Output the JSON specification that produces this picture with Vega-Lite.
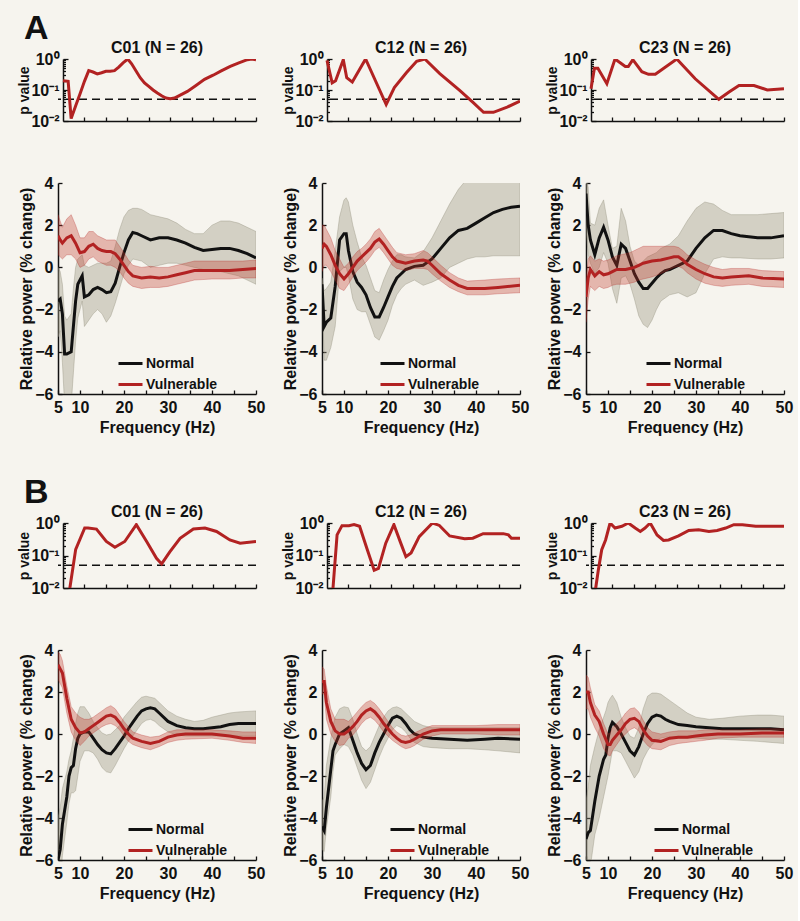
{
"$schema":"https://vega.github.io/schema/vega-lite/v6.json",
"background":"#f6f4ee",
"padding":{"left":17,"top":12,"right":5,"bottom":20},
"config":{
 "font":"Liberation Sans",
 "view":{"stroke":null},
 "axis":{"domainColor":"#111","domainWidth":1.5,"tickColor":"#111","tickWidth":1.3,"tickSize":-4,"labelFont":"Liberation Sans","labelFontWeight":"bold","labelFontSize":16,"labelColor":"#111","titleFont":"Liberation Sans","titleFontWeight":"bold","titleFontSize":16,"titleColor":"#111","grid":false,"labelFlush":false,"labelOverlap":false},
 "axisX":{"labelPadding":9,"titlePadding":4},
 "axisY":{"labelPadding":9},
 "title":{"font":"Liberation Sans","fontSize":16,"fontWeight":"bold","color":"#111","frame":"group","offset":-5,"anchor":"middle"},
 "legend":{"orient":"none","title":null,"symbolType":"stroke","symbolStrokeWidth":3,"symbolSize":576,"labelFont":"Liberation Sans","labelFontSize":14,"labelFontWeight":"bold","labelColor":"#111","rowPadding":-5,"padding":0,"labelOffset":2}
},
"datasets":{
"pw":[
{"s":"A","c":"C01","g":"Normal","f":5,"m":-1.6,"lo":-3.3,"hi":0},
{"s":"A","c":"C01","g":"Normal","f":5.5,"m":-1.5,"lo":-3.0,"hi":-0.2},
{"s":"A","c":"C01","g":"Normal","f":6,"m":-2.2,"lo":-4.5,"hi":-0.8},
{"s":"A","c":"C01","g":"Normal","f":6.5,"m":-4.1,"lo":-6.5,"hi":-2.3},
{"s":"A","c":"C01","g":"Normal","f":7,"m":-4.1,"lo":-6.5,"hi":-2.5},
{"s":"A","c":"C01","g":"Normal","f":8,"m":-4.0,"lo":-6.5,"hi":-2.2},
{"s":"A","c":"C01","g":"Normal","f":8.5,"m":-2.8,"lo":-5.0,"hi":-1.0},
{"s":"A","c":"C01","g":"Normal","f":9,"m":-1.6,"lo":-3.5,"hi":0},
{"s":"A","c":"C01","g":"Normal","f":9.5,"m":-0.8,"lo":-2.4,"hi":0.4},
{"s":"A","c":"C01","g":"Normal","f":10,"m":-0.6,"lo":-2.0,"hi":0.5},
{"s":"A","c":"C01","g":"Normal","f":10.5,"m":-0.4,"lo":-1.6,"hi":0.6},
{"s":"A","c":"C01","g":"Normal","f":11,"m":-1.4,"lo":-2.8,"hi":0.1},
{"s":"A","c":"C01","g":"Normal","f":12,"m":-1.3,"lo":-2.5,"hi":0},
{"s":"A","c":"C01","g":"Normal","f":13,"m":-1.05,"lo":-2.2,"hi":0.1},
{"s":"A","c":"C01","g":"Normal","f":14,"m":-0.95,"lo":-2.0,"hi":0.2},
{"s":"A","c":"C01","g":"Normal","f":15,"m":-1.05,"lo":-2.2,"hi":0.2},
{"s":"A","c":"C01","g":"Normal","f":16,"m":-1.2,"lo":-2.6,"hi":0.2},
{"s":"A","c":"C01","g":"Normal","f":17,"m":-1.15,"lo":-2.3,"hi":0.3},
{"s":"A","c":"C01","g":"Normal","f":18,"m":-0.75,"lo":-1.7,"hi":1.0},
{"s":"A","c":"C01","g":"Normal","f":19,"m":0,"lo":-1.0,"hi":1.8},
{"s":"A","c":"C01","g":"Normal","f":20,"m":0.7,"lo":-0.3,"hi":2.4},
{"s":"A","c":"C01","g":"Normal","f":21,"m":1.3,"lo":0.1,"hi":2.7},
{"s":"A","c":"C01","g":"Normal","f":22,"m":1.65,"lo":0.4,"hi":2.8},
{"s":"A","c":"C01","g":"Normal","f":23,"m":1.6,"lo":0.35,"hi":2.8},
{"s":"A","c":"C01","g":"Normal","f":24,"m":1.5,"lo":0.3,"hi":2.75},
{"s":"A","c":"C01","g":"Normal","f":26,"m":1.3,"lo":0,"hi":2.5},
{"s":"A","c":"C01","g":"Normal","f":28,"m":1.4,"lo":0.1,"hi":2.4},
{"s":"A","c":"C01","g":"Normal","f":30,"m":1.4,"lo":0.2,"hi":2.3},
{"s":"A","c":"C01","g":"Normal","f":32,"m":1.3,"lo":0.2,"hi":2.1},
{"s":"A","c":"C01","g":"Normal","f":34,"m":1.15,"lo":0.1,"hi":1.8},
{"s":"A","c":"C01","g":"Normal","f":36,"m":0.95,"lo":0,"hi":1.6},
{"s":"A","c":"C01","g":"Normal","f":38,"m":0.8,"lo":-0.1,"hi":1.6},
{"s":"A","c":"C01","g":"Normal","f":40,"m":0.85,"lo":-0.2,"hi":2.0},
{"s":"A","c":"C01","g":"Normal","f":42,"m":0.9,"lo":-0.2,"hi":2.2},
{"s":"A","c":"C01","g":"Normal","f":44,"m":0.9,"lo":-0.3,"hi":2.2},
{"s":"A","c":"C01","g":"Normal","f":46,"m":0.8,"lo":-0.4,"hi":2.1},
{"s":"A","c":"C01","g":"Normal","f":48,"m":0.65,"lo":-0.6,"hi":1.9},
{"s":"A","c":"C01","g":"Normal","f":50,"m":0.45,"lo":-0.8,"hi":1.7},
{"s":"A","c":"C01","g":"Vulnerable","f":5,"m":1.5,"lo":0.6,"hi":2.5},
{"s":"A","c":"C01","g":"Vulnerable","f":5.5,"m":1.3,"lo":0.5,"hi":2.2},
{"s":"A","c":"C01","g":"Vulnerable","f":6,"m":1.15,"lo":0.4,"hi":1.9},
{"s":"A","c":"C01","g":"Vulnerable","f":7,"m":1.4,"lo":0.6,"hi":2.3},
{"s":"A","c":"C01","g":"Vulnerable","f":8,"m":1.5,"lo":0.6,"hi":2.5},
{"s":"A","c":"C01","g":"Vulnerable","f":9,"m":1.15,"lo":0.4,"hi":2.0},
{"s":"A","c":"C01","g":"Vulnerable","f":10,"m":0.7,"lo":0,"hi":1.4},
{"s":"A","c":"C01","g":"Vulnerable","f":11,"m":0.75,"lo":0.1,"hi":1.4},
{"s":"A","c":"C01","g":"Vulnerable","f":12,"m":1.0,"lo":0.4,"hi":1.7},
{"s":"A","c":"C01","g":"Vulnerable","f":13,"m":1.1,"lo":0.5,"hi":1.7},
{"s":"A","c":"C01","g":"Vulnerable","f":14,"m":0.9,"lo":0.3,"hi":1.5},
{"s":"A","c":"C01","g":"Vulnerable","f":15,"m":0.8,"lo":0.2,"hi":1.4},
{"s":"A","c":"C01","g":"Vulnerable","f":16,"m":0.75,"lo":0.1,"hi":1.3},
{"s":"A","c":"C01","g":"Vulnerable","f":17,"m":0.75,"lo":0.1,"hi":1.3},
{"s":"A","c":"C01","g":"Vulnerable","f":18,"m":0.65,"lo":0,"hi":1.3},
{"s":"A","c":"C01","g":"Vulnerable","f":19,"m":0.4,"lo":-0.2,"hi":1.0},
{"s":"A","c":"C01","g":"Vulnerable","f":20,"m":0.1,"lo":-0.5,"hi":0.7},
{"s":"A","c":"C01","g":"Vulnerable","f":21,"m":-0.2,"lo":-0.75,"hi":0.35},
{"s":"A","c":"C01","g":"Vulnerable","f":22,"m":-0.4,"lo":-0.9,"hi":0.1},
{"s":"A","c":"C01","g":"Vulnerable","f":24,"m":-0.5,"lo":-1.0,"hi":0},
{"s":"A","c":"C01","g":"Vulnerable","f":26,"m":-0.45,"lo":-0.95,"hi":0.05},
{"s":"A","c":"C01","g":"Vulnerable","f":28,"m":-0.5,"lo":-0.95,"hi":0},
{"s":"A","c":"C01","g":"Vulnerable","f":30,"m":-0.45,"lo":-0.9,"hi":0},
{"s":"A","c":"C01","g":"Vulnerable","f":32,"m":-0.35,"lo":-0.8,"hi":0.1},
{"s":"A","c":"C01","g":"Vulnerable","f":34,"m":-0.25,"lo":-0.7,"hi":0.2},
{"s":"A","c":"C01","g":"Vulnerable","f":36,"m":-0.15,"lo":-0.6,"hi":0.3},
{"s":"A","c":"C01","g":"Vulnerable","f":40,"m":-0.15,"lo":-0.55,"hi":0.3},
{"s":"A","c":"C01","g":"Vulnerable","f":44,"m":-0.15,"lo":-0.55,"hi":0.3},
{"s":"A","c":"C01","g":"Vulnerable","f":47,"m":-0.1,"lo":-0.5,"hi":0.3},
{"s":"A","c":"C01","g":"Vulnerable","f":50,"m":-0.05,"lo":-0.5,"hi":0.35},
{"s":"A","c":"C12","g":"Normal","f":5,"m":-0.8,"lo":-1.2,"hi":-0.5},
{"s":"A","c":"C12","g":"Normal","f":5.5,"m":-2.8,"lo":-4.4,"hi":-1.1},
{"s":"A","c":"C12","g":"Normal","f":6,"m":-2.6,"lo":-4.4,"hi":-1.0},
{"s":"A","c":"C12","g":"Normal","f":7,"m":-2.4,"lo":-3.8,"hi":-0.7},
{"s":"A","c":"C12","g":"Normal","f":8,"m":-0.9,"lo":-2.8,"hi":0.8},
{"s":"A","c":"C12","g":"Normal","f":9,"m":1.3,"lo":-0.2,"hi":2.4},
{"s":"A","c":"C12","g":"Normal","f":10,"m":1.6,"lo":0,"hi":3.2},
{"s":"A","c":"C12","g":"Normal","f":10.5,"m":1.6,"lo":0,"hi":3.3},
{"s":"A","c":"C12","g":"Normal","f":11,"m":0.8,"lo":-0.4,"hi":3.1},
{"s":"A","c":"C12","g":"Normal","f":12,"m":-0.2,"lo":-1.5,"hi":2.0},
{"s":"A","c":"C12","g":"Normal","f":13,"m":-0.7,"lo":-2.0,"hi":1.2},
{"s":"A","c":"C12","g":"Normal","f":14,"m":-0.95,"lo":-2.1,"hi":0.5},
{"s":"A","c":"C12","g":"Normal","f":15,"m":-1.3,"lo":-2.1,"hi":0.1},
{"s":"A","c":"C12","g":"Normal","f":16,"m":-1.9,"lo":-2.7,"hi":-0.5},
{"s":"A","c":"C12","g":"Normal","f":17,"m":-2.35,"lo":-3.3,"hi":-1.1},
{"s":"A","c":"C12","g":"Normal","f":18,"m":-2.35,"lo":-3.45,"hi":-1.2},
{"s":"A","c":"C12","g":"Normal","f":19,"m":-1.9,"lo":-3.0,"hi":-0.6},
{"s":"A","c":"C12","g":"Normal","f":20,"m":-1.4,"lo":-2.5,"hi":-0.1},
{"s":"A","c":"C12","g":"Normal","f":21,"m":-0.9,"lo":-1.8,"hi":0.3},
{"s":"A","c":"C12","g":"Normal","f":22,"m":-0.5,"lo":-1.3,"hi":0.6},
{"s":"A","c":"C12","g":"Normal","f":23,"m":-0.3,"lo":-1.0,"hi":0.6},
{"s":"A","c":"C12","g":"Normal","f":24,"m":-0.1,"lo":-0.8,"hi":0.5},
{"s":"A","c":"C12","g":"Normal","f":26,"m":0.05,"lo":-0.6,"hi":0.45},
{"s":"A","c":"C12","g":"Normal","f":28,"m":0.1,"lo":-0.85,"hi":0.75},
{"s":"A","c":"C12","g":"Normal","f":30,"m":0.4,"lo":-0.7,"hi":1.4},
{"s":"A","c":"C12","g":"Normal","f":32,"m":0.9,"lo":-0.5,"hi":2.2},
{"s":"A","c":"C12","g":"Normal","f":34,"m":1.4,"lo":0,"hi":3.0},
{"s":"A","c":"C12","g":"Normal","f":36,"m":1.75,"lo":0.2,"hi":3.7},
{"s":"A","c":"C12","g":"Normal","f":38,"m":1.85,"lo":0.4,"hi":4.2},
{"s":"A","c":"C12","g":"Normal","f":40,"m":2.1,"lo":0.5,"hi":4.6},
{"s":"A","c":"C12","g":"Normal","f":42,"m":2.35,"lo":0.5,"hi":4.9},
{"s":"A","c":"C12","g":"Normal","f":44,"m":2.6,"lo":0.55,"hi":5.0},
{"s":"A","c":"C12","g":"Normal","f":46,"m":2.75,"lo":0.55,"hi":5.1},
{"s":"A","c":"C12","g":"Normal","f":48,"m":2.85,"lo":0.55,"hi":5.1},
{"s":"A","c":"C12","g":"Normal","f":50,"m":2.9,"lo":0.55,"hi":5.1},
{"s":"A","c":"C12","g":"Vulnerable","f":5,"m":0.9,"lo":-0.2,"hi":2.0},
{"s":"A","c":"C12","g":"Vulnerable","f":5.5,"m":1.1,"lo":0.1,"hi":2.0},
{"s":"A","c":"C12","g":"Vulnerable","f":6,"m":1.0,"lo":0.1,"hi":1.8},
{"s":"A","c":"C12","g":"Vulnerable","f":7,"m":0.6,"lo":-0.2,"hi":1.4},
{"s":"A","c":"C12","g":"Vulnerable","f":8,"m":0.1,"lo":-0.6,"hi":0.8},
{"s":"A","c":"C12","g":"Vulnerable","f":9,"m":-0.3,"lo":-1.0,"hi":0.4},
{"s":"A","c":"C12","g":"Vulnerable","f":10,"m":-0.55,"lo":-1.1,"hi":0},
{"s":"A","c":"C12","g":"Vulnerable","f":11,"m":-0.3,"lo":-0.8,"hi":0.2},
{"s":"A","c":"C12","g":"Vulnerable","f":12,"m":0,"lo":-0.45,"hi":0.5},
{"s":"A","c":"C12","g":"Vulnerable","f":13,"m":0.3,"lo":-0.15,"hi":0.75},
{"s":"A","c":"C12","g":"Vulnerable","f":14,"m":0.5,"lo":0.05,"hi":0.9},
{"s":"A","c":"C12","g":"Vulnerable","f":15,"m":0.7,"lo":0.25,"hi":1.1},
{"s":"A","c":"C12","g":"Vulnerable","f":16,"m":0.9,"lo":0.5,"hi":1.35},
{"s":"A","c":"C12","g":"Vulnerable","f":17,"m":1.2,"lo":0.8,"hi":1.7},
{"s":"A","c":"C12","g":"Vulnerable","f":18,"m":1.35,"lo":0.95,"hi":1.85},
{"s":"A","c":"C12","g":"Vulnerable","f":19,"m":1.1,"lo":0.7,"hi":1.55},
{"s":"A","c":"C12","g":"Vulnerable","f":20,"m":0.8,"lo":0.4,"hi":1.25},
{"s":"A","c":"C12","g":"Vulnerable","f":21,"m":0.5,"lo":0.1,"hi":0.95},
{"s":"A","c":"C12","g":"Vulnerable","f":22,"m":0.3,"lo":-0.05,"hi":0.7},
{"s":"A","c":"C12","g":"Vulnerable","f":24,"m":0.2,"lo":-0.15,"hi":0.6},
{"s":"A","c":"C12","g":"Vulnerable","f":26,"m":0.3,"lo":-0.05,"hi":0.65},
{"s":"A","c":"C12","g":"Vulnerable","f":28,"m":0.35,"lo":-0.05,"hi":0.8},
{"s":"A","c":"C12","g":"Vulnerable","f":29,"m":0.3,"lo":-0.1,"hi":0.7},
{"s":"A","c":"C12","g":"Vulnerable","f":30,"m":0.1,"lo":-0.3,"hi":0.5},
{"s":"A","c":"C12","g":"Vulnerable","f":32,"m":-0.3,"lo":-0.65,"hi":0.1},
{"s":"A","c":"C12","g":"Vulnerable","f":34,"m":-0.6,"lo":-0.95,"hi":-0.25},
{"s":"A","c":"C12","g":"Vulnerable","f":36,"m":-0.85,"lo":-1.15,"hi":-0.5},
{"s":"A","c":"C12","g":"Vulnerable","f":38,"m":-1.0,"lo":-1.3,"hi":-0.65},
{"s":"A","c":"C12","g":"Vulnerable","f":42,"m":-1.0,"lo":-1.3,"hi":-0.6},
{"s":"A","c":"C12","g":"Vulnerable","f":45,"m":-0.95,"lo":-1.25,"hi":-0.55},
{"s":"A","c":"C12","g":"Vulnerable","f":50,"m":-0.85,"lo":-1.2,"hi":-0.5},
{"s":"A","c":"C23","g":"Normal","f":5,"m":3.5,"lo":1.8,"hi":4.3},
{"s":"A","c":"C23","g":"Normal","f":5.5,"m":2.0,"lo":0.6,"hi":3.8},
{"s":"A","c":"C23","g":"Normal","f":6,"m":1.3,"lo":0.2,"hi":2.1},
{"s":"A","c":"C23","g":"Normal","f":7,"m":0.6,"lo":-0.3,"hi":2.0},
{"s":"A","c":"C23","g":"Normal","f":8,"m":1.4,"lo":0,"hi":2.8},
{"s":"A","c":"C23","g":"Normal","f":9,"m":1.9,"lo":0.7,"hi":3.2},
{"s":"A","c":"C23","g":"Normal","f":10,"m":1.3,"lo":0.2,"hi":2.0},
{"s":"A","c":"C23","g":"Normal","f":11,"m":0.5,"lo":-1.0,"hi":0.9},
{"s":"A","c":"C23","g":"Normal","f":12,"m":0.1,"lo":-1.7,"hi":1.0},
{"s":"A","c":"C23","g":"Normal","f":13,"m":1.1,"lo":-0.5,"hi":2.8},
{"s":"A","c":"C23","g":"Normal","f":14,"m":0.9,"lo":-0.4,"hi":2.2},
{"s":"A","c":"C23","g":"Normal","f":15,"m":0.3,"lo":-0.8,"hi":1.0},
{"s":"A","c":"C23","g":"Normal","f":16,"m":-0.3,"lo":-1.5,"hi":0.3},
{"s":"A","c":"C23","g":"Normal","f":17,"m":-0.7,"lo":-2.3,"hi":0.1},
{"s":"A","c":"C23","g":"Normal","f":18,"m":-1.0,"lo":-2.7,"hi":0.3},
{"s":"A","c":"C23","g":"Normal","f":19,"m":-1.0,"lo":-2.85,"hi":0.5},
{"s":"A","c":"C23","g":"Normal","f":20,"m":-0.75,"lo":-2.5,"hi":0.6},
{"s":"A","c":"C23","g":"Normal","f":21,"m":-0.5,"lo":-2.0,"hi":0.7},
{"s":"A","c":"C23","g":"Normal","f":22,"m":-0.3,"lo":-1.6,"hi":0.9},
{"s":"A","c":"C23","g":"Normal","f":23,"m":-0.15,"lo":-1.45,"hi":1.0},
{"s":"A","c":"C23","g":"Normal","f":24,"m":-0.1,"lo":-1.3,"hi":1.1},
{"s":"A","c":"C23","g":"Normal","f":26,"m":0.1,"lo":-1.2,"hi":1.5},
{"s":"A","c":"C23","g":"Normal","f":28,"m":0.3,"lo":-1.4,"hi":2.2},
{"s":"A","c":"C23","g":"Normal","f":30,"m":0.9,"lo":-1.2,"hi":2.8},
{"s":"A","c":"C23","g":"Normal","f":32,"m":1.4,"lo":-0.3,"hi":3.1},
{"s":"A","c":"C23","g":"Normal","f":34,"m":1.75,"lo":0.4,"hi":3.0},
{"s":"A","c":"C23","g":"Normal","f":36,"m":1.75,"lo":0.5,"hi":2.7},
{"s":"A","c":"C23","g":"Normal","f":38,"m":1.6,"lo":0.45,"hi":2.5},
{"s":"A","c":"C23","g":"Normal","f":40,"m":1.5,"lo":0.45,"hi":2.5},
{"s":"A","c":"C23","g":"Normal","f":44,"m":1.4,"lo":0.4,"hi":2.5},
{"s":"A","c":"C23","g":"Normal","f":47,"m":1.4,"lo":0.4,"hi":2.55},
{"s":"A","c":"C23","g":"Normal","f":50,"m":1.5,"lo":0.45,"hi":2.6},
{"s":"A","c":"C23","g":"Vulnerable","f":5,"m":-1.4,"lo":-2.6,"hi":-0.6},
{"s":"A","c":"C23","g":"Vulnerable","f":5.5,"m":-0.5,"lo":-1.5,"hi":0.4},
{"s":"A","c":"C23","g":"Vulnerable","f":6,"m":-0.1,"lo":-0.9,"hi":0.55},
{"s":"A","c":"C23","g":"Vulnerable","f":7,"m":-0.4,"lo":-1.1,"hi":0.3},
{"s":"A","c":"C23","g":"Vulnerable","f":8,"m":-0.2,"lo":-0.9,"hi":0.4},
{"s":"A","c":"C23","g":"Vulnerable","f":9,"m":-0.35,"lo":-1.0,"hi":0.3},
{"s":"A","c":"C23","g":"Vulnerable","f":10,"m":-0.3,"lo":-0.95,"hi":0.35},
{"s":"A","c":"C23","g":"Vulnerable","f":11,"m":-0.2,"lo":-0.85,"hi":0.45},
{"s":"A","c":"C23","g":"Vulnerable","f":12,"m":-0.1,"lo":-0.8,"hi":0.55},
{"s":"A","c":"C23","g":"Vulnerable","f":14,"m":-0.1,"lo":-0.8,"hi":0.65},
{"s":"A","c":"C23","g":"Vulnerable","f":15,"m":-0.05,"lo":-0.75,"hi":0.7},
{"s":"A","c":"C23","g":"Vulnerable","f":16,"m":0,"lo":-0.7,"hi":0.8},
{"s":"A","c":"C23","g":"Vulnerable","f":17,"m":0.1,"lo":-0.6,"hi":0.9},
{"s":"A","c":"C23","g":"Vulnerable","f":18,"m":0.2,"lo":-0.55,"hi":1.0},
{"s":"A","c":"C23","g":"Vulnerable","f":20,"m":0.3,"lo":-0.45,"hi":1.0},
{"s":"A","c":"C23","g":"Vulnerable","f":22,"m":0.35,"lo":-0.3,"hi":1.0},
{"s":"A","c":"C23","g":"Vulnerable","f":24,"m":0.45,"lo":-0.1,"hi":1.0},
{"s":"A","c":"C23","g":"Vulnerable","f":25,"m":0.5,"lo":0,"hi":1.0},
{"s":"A","c":"C23","g":"Vulnerable","f":26,"m":0.5,"lo":0.05,"hi":0.95},
{"s":"A","c":"C23","g":"Vulnerable","f":27,"m":0.35,"lo":-0.05,"hi":0.8},
{"s":"A","c":"C23","g":"Vulnerable","f":28,"m":0.15,"lo":-0.25,"hi":0.6},
{"s":"A","c":"C23","g":"Vulnerable","f":30,"m":-0.1,"lo":-0.55,"hi":0.35},
{"s":"A","c":"C23","g":"Vulnerable","f":32,"m":-0.3,"lo":-0.75,"hi":0.15},
{"s":"A","c":"C23","g":"Vulnerable","f":34,"m":-0.45,"lo":-0.85,"hi":0},
{"s":"A","c":"C23","g":"Vulnerable","f":36,"m":-0.5,"lo":-0.9,"hi":-0.1},
{"s":"A","c":"C23","g":"Vulnerable","f":38,"m":-0.45,"lo":-0.85,"hi":-0.05},
{"s":"A","c":"C23","g":"Vulnerable","f":42,"m":-0.4,"lo":-0.8,"hi":-0.05},
{"s":"A","c":"C23","g":"Vulnerable","f":45,"m":-0.5,"lo":-0.9,"hi":-0.15},
{"s":"A","c":"C23","g":"Vulnerable","f":50,"m":-0.55,"lo":-0.95,"hi":-0.2},
{"s":"B","c":"C01","g":"Normal","f":5,"m":-6.0,"lo":-7.5,"hi":-4.0},
{"s":"B","c":"C01","g":"Normal","f":5.5,"m":-5.5,"lo":-7.0,"hi":-3.5},
{"s":"B","c":"C01","g":"Normal","f":6,"m":-4.3,"lo":-5.8,"hi":-2.6},
{"s":"B","c":"C01","g":"Normal","f":7,"m":-3.0,"lo":-4.2,"hi":-1.8},
{"s":"B","c":"C01","g":"Normal","f":7.5,"m":-2.0,"lo":-3.3,"hi":-1.2},
{"s":"B","c":"C01","g":"Normal","f":8,"m":-1.6,"lo":-2.8,"hi":-0.8},
{"s":"B","c":"C01","g":"Normal","f":8.5,"m":-1.5,"lo":-2.8,"hi":-0.2},
{"s":"B","c":"C01","g":"Normal","f":9,"m":-0.7,"lo":-2.7,"hi":0.5},
{"s":"B","c":"C01","g":"Normal","f":9.5,"m":-0.2,"lo":-2.0,"hi":1.0},
{"s":"B","c":"C01","g":"Normal","f":10,"m":0,"lo":-1.3,"hi":1.3},
{"s":"B","c":"C01","g":"Normal","f":11,"m":0.1,"lo":-0.8,"hi":1.3},
{"s":"B","c":"C01","g":"Normal","f":12,"m":0.1,"lo":-0.8,"hi":1.0},
{"s":"B","c":"C01","g":"Normal","f":13,"m":-0.2,"lo":-0.9,"hi":0.6},
{"s":"B","c":"C01","g":"Normal","f":14,"m":-0.5,"lo":-1.2,"hi":0.3},
{"s":"B","c":"C01","g":"Normal","f":15,"m":-0.75,"lo":-1.6,"hi":0.05},
{"s":"B","c":"C01","g":"Normal","f":16,"m":-0.9,"lo":-1.8,"hi":-0.05},
{"s":"B","c":"C01","g":"Normal","f":17,"m":-0.95,"lo":-1.85,"hi":0},
{"s":"B","c":"C01","g":"Normal","f":18,"m":-0.7,"lo":-1.5,"hi":0.2},
{"s":"B","c":"C01","g":"Normal","f":19,"m":-0.4,"lo":-1.1,"hi":0.4},
{"s":"B","c":"C01","g":"Normal","f":20,"m":-0.1,"lo":-0.7,"hi":0.8},
{"s":"B","c":"C01","g":"Normal","f":21,"m":0.25,"lo":-0.35,"hi":1.05},
{"s":"B","c":"C01","g":"Normal","f":22,"m":0.55,"lo":-0.1,"hi":1.3},
{"s":"B","c":"C01","g":"Normal","f":23,"m":0.85,"lo":0.2,"hi":1.55},
{"s":"B","c":"C01","g":"Normal","f":24,"m":1.1,"lo":0.5,"hi":1.75},
{"s":"B","c":"C01","g":"Normal","f":25,"m":1.2,"lo":0.65,"hi":1.8},
{"s":"B","c":"C01","g":"Normal","f":26,"m":1.25,"lo":0.7,"hi":1.75},
{"s":"B","c":"C01","g":"Normal","f":27,"m":1.2,"lo":0.6,"hi":1.7},
{"s":"B","c":"C01","g":"Normal","f":28,"m":1.0,"lo":0.4,"hi":1.5},
{"s":"B","c":"C01","g":"Normal","f":30,"m":0.6,"lo":0.1,"hi":1.1},
{"s":"B","c":"C01","g":"Normal","f":32,"m":0.4,"lo":-0.05,"hi":0.85},
{"s":"B","c":"C01","g":"Normal","f":34,"m":0.3,"lo":-0.1,"hi":0.7},
{"s":"B","c":"C01","g":"Normal","f":36,"m":0.25,"lo":-0.1,"hi":0.6},
{"s":"B","c":"C01","g":"Normal","f":38,"m":0.25,"lo":-0.1,"hi":0.65},
{"s":"B","c":"C01","g":"Normal","f":40,"m":0.3,"lo":-0.1,"hi":0.8},
{"s":"B","c":"C01","g":"Normal","f":42,"m":0.35,"lo":-0.1,"hi":0.9},
{"s":"B","c":"C01","g":"Normal","f":44,"m":0.45,"lo":-0.1,"hi":1.0},
{"s":"B","c":"C01","g":"Normal","f":46,"m":0.5,"lo":-0.1,"hi":1.05},
{"s":"B","c":"C01","g":"Normal","f":50,"m":0.5,"lo":-0.1,"hi":1.1},
{"s":"B","c":"C01","g":"Vulnerable","f":5,"m":3.3,"lo":2.6,"hi":3.9},
{"s":"B","c":"C01","g":"Vulnerable","f":5.5,"m":3.1,"lo":2.4,"hi":3.8},
{"s":"B","c":"C01","g":"Vulnerable","f":6,"m":2.9,"lo":2.2,"hi":3.5},
{"s":"B","c":"C01","g":"Vulnerable","f":7,"m":1.7,"lo":1.0,"hi":2.3},
{"s":"B","c":"C01","g":"Vulnerable","f":8,"m":0.7,"lo":0.1,"hi":1.3},
{"s":"B","c":"C01","g":"Vulnerable","f":9,"m":0.3,"lo":-0.3,"hi":1.0},
{"s":"B","c":"C01","g":"Vulnerable","f":10,"m":0.05,"lo":-0.55,"hi":0.8},
{"s":"B","c":"C01","g":"Vulnerable","f":11,"m":0.1,"lo":-0.35,"hi":0.7},
{"s":"B","c":"C01","g":"Vulnerable","f":12,"m":0.25,"lo":-0.1,"hi":0.7},
{"s":"B","c":"C01","g":"Vulnerable","f":13,"m":0.4,"lo":0.05,"hi":0.8},
{"s":"B","c":"C01","g":"Vulnerable","f":14,"m":0.55,"lo":0.2,"hi":0.95},
{"s":"B","c":"C01","g":"Vulnerable","f":15,"m":0.7,"lo":0.35,"hi":1.1},
{"s":"B","c":"C01","g":"Vulnerable","f":16,"m":0.85,"lo":0.45,"hi":1.25},
{"s":"B","c":"C01","g":"Vulnerable","f":17,"m":0.9,"lo":0.5,"hi":1.35},
{"s":"B","c":"C01","g":"Vulnerable","f":18,"m":0.8,"lo":0.4,"hi":1.2},
{"s":"B","c":"C01","g":"Vulnerable","f":19,"m":0.55,"lo":0.2,"hi":0.9},
{"s":"B","c":"C01","g":"Vulnerable","f":20,"m":0.25,"lo":-0.1,"hi":0.6},
{"s":"B","c":"C01","g":"Vulnerable","f":21,"m":0,"lo":-0.35,"hi":0.35},
{"s":"B","c":"C01","g":"Vulnerable","f":22,"m":-0.2,"lo":-0.5,"hi":0.1},
{"s":"B","c":"C01","g":"Vulnerable","f":24,"m":-0.35,"lo":-0.65,"hi":-0.05},
{"s":"B","c":"C01","g":"Vulnerable","f":26,"m":-0.45,"lo":-0.75,"hi":-0.15},
{"s":"B","c":"C01","g":"Vulnerable","f":28,"m":-0.35,"lo":-0.6,"hi":-0.1},
{"s":"B","c":"C01","g":"Vulnerable","f":30,"m":-0.15,"lo":-0.4,"hi":0.1},
{"s":"B","c":"C01","g":"Vulnerable","f":32,"m":-0.05,"lo":-0.3,"hi":0.2},
{"s":"B","c":"C01","g":"Vulnerable","f":34,"m":0,"lo":-0.25,"hi":0.2},
{"s":"B","c":"C01","g":"Vulnerable","f":40,"m":0,"lo":-0.2,"hi":0.2},
{"s":"B","c":"C01","g":"Vulnerable","f":44,"m":-0.1,"lo":-0.3,"hi":0.15},
{"s":"B","c":"C01","g":"Vulnerable","f":47,"m":-0.2,"lo":-0.4,"hi":0.1},
{"s":"B","c":"C01","g":"Vulnerable","f":50,"m":-0.2,"lo":-0.45,"hi":0.1},
{"s":"B","c":"C12","g":"Normal","f":5,"m":-4.4,"lo":-5.5,"hi":-3.2},
{"s":"B","c":"C12","g":"Normal","f":5.5,"m":-4.6,"lo":-5.6,"hi":-3.0},
{"s":"B","c":"C12","g":"Normal","f":6,"m":-3.5,"lo":-4.5,"hi":-1.5},
{"s":"B","c":"C12","g":"Normal","f":7,"m":-1.7,"lo":-3.0,"hi":-0.2},
{"s":"B","c":"C12","g":"Normal","f":7.5,"m":-0.8,"lo":-1.8,"hi":0.4},
{"s":"B","c":"C12","g":"Normal","f":8,"m":-0.5,"lo":-1.0,"hi":0.8},
{"s":"B","c":"C12","g":"Normal","f":9,"m":0,"lo":-0.7,"hi":1.2},
{"s":"B","c":"C12","g":"Normal","f":10,"m":0.15,"lo":-0.5,"hi":1.3},
{"s":"B","c":"C12","g":"Normal","f":11,"m":0.3,"lo":-0.6,"hi":1.25},
{"s":"B","c":"C12","g":"Normal","f":12,"m":-0.3,"lo":-1.0,"hi":0.7},
{"s":"B","c":"C12","g":"Normal","f":13,"m":-0.9,"lo":-1.6,"hi":0},
{"s":"B","c":"C12","g":"Normal","f":14,"m":-1.4,"lo":-2.2,"hi":-0.6},
{"s":"B","c":"C12","g":"Normal","f":15,"m":-1.7,"lo":-2.6,"hi":-0.8},
{"s":"B","c":"C12","g":"Normal","f":16,"m":-1.5,"lo":-2.3,"hi":-0.6},
{"s":"B","c":"C12","g":"Normal","f":17,"m":-0.9,"lo":-1.7,"hi":-0.1},
{"s":"B","c":"C12","g":"Normal","f":18,"m":-0.4,"lo":-1.1,"hi":0.4},
{"s":"B","c":"C12","g":"Normal","f":19,"m":0,"lo":-0.6,"hi":0.8},
{"s":"B","c":"C12","g":"Normal","f":20,"m":0.4,"lo":-0.2,"hi":1.1},
{"s":"B","c":"C12","g":"Normal","f":21,"m":0.75,"lo":0.2,"hi":1.25},
{"s":"B","c":"C12","g":"Normal","f":22,"m":0.85,"lo":0.4,"hi":1.3},
{"s":"B","c":"C12","g":"Normal","f":23,"m":0.75,"lo":0.3,"hi":1.2},
{"s":"B","c":"C12","g":"Normal","f":24,"m":0.5,"lo":0.1,"hi":1.0},
{"s":"B","c":"C12","g":"Normal","f":25,"m":0.2,"lo":-0.2,"hi":0.8},
{"s":"B","c":"C12","g":"Normal","f":26,"m":0,"lo":-0.4,"hi":0.6},
{"s":"B","c":"C12","g":"Normal","f":28,"m":-0.15,"lo":-0.6,"hi":0.4},
{"s":"B","c":"C12","g":"Normal","f":30,"m":-0.2,"lo":-0.65,"hi":0.3},
{"s":"B","c":"C12","g":"Normal","f":34,"m":-0.25,"lo":-0.7,"hi":0.3},
{"s":"B","c":"C12","g":"Normal","f":38,"m":-0.3,"lo":-0.7,"hi":0.3},
{"s":"B","c":"C12","g":"Normal","f":42,"m":-0.25,"lo":-0.75,"hi":0.3},
{"s":"B","c":"C12","g":"Normal","f":45,"m":-0.2,"lo":-0.8,"hi":0.3},
{"s":"B","c":"C12","g":"Normal","f":50,"m":-0.25,"lo":-0.9,"hi":0.3},
{"s":"B","c":"C12","g":"Vulnerable","f":5,"m":2.5,"lo":1.9,"hi":3.2},
{"s":"B","c":"C12","g":"Vulnerable","f":5.5,"m":2.5,"lo":1.9,"hi":3.1},
{"s":"B","c":"C12","g":"Vulnerable","f":6,"m":1.5,"lo":0.7,"hi":2.3},
{"s":"B","c":"C12","g":"Vulnerable","f":7,"m":0.6,"lo":0,"hi":1.2},
{"s":"B","c":"C12","g":"Vulnerable","f":8,"m":0.15,"lo":-0.35,"hi":0.7},
{"s":"B","c":"C12","g":"Vulnerable","f":9,"m":0,"lo":-0.55,"hi":0.7},
{"s":"B","c":"C12","g":"Vulnerable","f":10,"m":0,"lo":-0.5,"hi":0.7},
{"s":"B","c":"C12","g":"Vulnerable","f":11,"m":0.15,"lo":-0.2,"hi":0.6},
{"s":"B","c":"C12","g":"Vulnerable","f":12,"m":0.35,"lo":-0.05,"hi":0.8},
{"s":"B","c":"C12","g":"Vulnerable","f":13,"m":0.6,"lo":0.2,"hi":1.05},
{"s":"B","c":"C12","g":"Vulnerable","f":14,"m":0.9,"lo":0.5,"hi":1.3},
{"s":"B","c":"C12","g":"Vulnerable","f":15,"m":1.1,"lo":0.7,"hi":1.5},
{"s":"B","c":"C12","g":"Vulnerable","f":16,"m":1.2,"lo":0.8,"hi":1.6},
{"s":"B","c":"C12","g":"Vulnerable","f":17,"m":1.05,"lo":0.65,"hi":1.45},
{"s":"B","c":"C12","g":"Vulnerable","f":18,"m":0.8,"lo":0.4,"hi":1.2},
{"s":"B","c":"C12","g":"Vulnerable","f":19,"m":0.5,"lo":0.1,"hi":0.9},
{"s":"B","c":"C12","g":"Vulnerable","f":20,"m":0.25,"lo":-0.1,"hi":0.6},
{"s":"B","c":"C12","g":"Vulnerable","f":21,"m":0,"lo":-0.3,"hi":0.3},
{"s":"B","c":"C12","g":"Vulnerable","f":22,"m":-0.2,"lo":-0.45,"hi":0.1},
{"s":"B","c":"C12","g":"Vulnerable","f":23,"m":-0.35,"lo":-0.6,"hi":-0.05},
{"s":"B","c":"C12","g":"Vulnerable","f":24,"m":-0.4,"lo":-0.7,"hi":-0.1},
{"s":"B","c":"C12","g":"Vulnerable","f":25,"m":-0.35,"lo":-0.65,"hi":-0.05},
{"s":"B","c":"C12","g":"Vulnerable","f":26,"m":-0.25,"lo":-0.55,"hi":0.05},
{"s":"B","c":"C12","g":"Vulnerable","f":28,"m":0,"lo":-0.25,"hi":0.25},
{"s":"B","c":"C12","g":"Vulnerable","f":30,"m":0.15,"lo":-0.1,"hi":0.4},
{"s":"B","c":"C12","g":"Vulnerable","f":32,"m":0.2,"lo":0,"hi":0.4},
{"s":"B","c":"C12","g":"Vulnerable","f":40,"m":0.2,"lo":0,"hi":0.4},
{"s":"B","c":"C12","g":"Vulnerable","f":45,"m":0.2,"lo":-0.05,"hi":0.45},
{"s":"B","c":"C12","g":"Vulnerable","f":50,"m":0.2,"lo":-0.05,"hi":0.45},
{"s":"B","c":"C23","g":"Normal","f":5,"m":-5.0,"lo":-6.8,"hi":-3.2},
{"s":"B","c":"C23","g":"Normal","f":5.5,"m":-4.7,"lo":-6.6,"hi":-2.5},
{"s":"B","c":"C23","g":"Normal","f":6,"m":-4.6,"lo":-6.3,"hi":-1.5},
{"s":"B","c":"C23","g":"Normal","f":7,"m":-3.2,"lo":-4.8,"hi":-0.6},
{"s":"B","c":"C23","g":"Normal","f":8,"m":-2.0,"lo":-4.0,"hi":0.2},
{"s":"B","c":"C23","g":"Normal","f":9,"m":-1.2,"lo":-3.0,"hi":0.8},
{"s":"B","c":"C23","g":"Normal","f":9.5,"m":-1.0,"lo":-2.5,"hi":1.1},
{"s":"B","c":"C23","g":"Normal","f":10,"m":-0.2,"lo":-2.0,"hi":1.5},
{"s":"B","c":"C23","g":"Normal","f":10.5,"m":0.3,"lo":-1.4,"hi":1.7},
{"s":"B","c":"C23","g":"Normal","f":11,"m":0.55,"lo":-0.8,"hi":1.85},
{"s":"B","c":"C23","g":"Normal","f":12,"m":0.35,"lo":-0.8,"hi":1.5},
{"s":"B","c":"C23","g":"Normal","f":13,"m":0,"lo":-0.9,"hi":0.8},
{"s":"B","c":"C23","g":"Normal","f":14,"m":-0.4,"lo":-1.3,"hi":0.3},
{"s":"B","c":"C23","g":"Normal","f":15,"m":-0.8,"lo":-1.7,"hi":-0.1},
{"s":"B","c":"C23","g":"Normal","f":16,"m":-1.0,"lo":-2.1,"hi":-0.2},
{"s":"B","c":"C23","g":"Normal","f":17,"m":-0.6,"lo":-1.8,"hi":0.3},
{"s":"B","c":"C23","g":"Normal","f":18,"m":0,"lo":-1.2,"hi":1.2},
{"s":"B","c":"C23","g":"Normal","f":19,"m":0.5,"lo":-0.8,"hi":1.8},
{"s":"B","c":"C23","g":"Normal","f":20,"m":0.8,"lo":-0.5,"hi":1.95},
{"s":"B","c":"C23","g":"Normal","f":21,"m":0.9,"lo":-0.3,"hi":1.95},
{"s":"B","c":"C23","g":"Normal","f":22,"m":0.85,"lo":-0.2,"hi":1.9},
{"s":"B","c":"C23","g":"Normal","f":23,"m":0.7,"lo":-0.15,"hi":1.75},
{"s":"B","c":"C23","g":"Normal","f":24,"m":0.6,"lo":-0.15,"hi":1.6},
{"s":"B","c":"C23","g":"Normal","f":26,"m":0.45,"lo":-0.2,"hi":1.3},
{"s":"B","c":"C23","g":"Normal","f":28,"m":0.4,"lo":-0.2,"hi":1.0},
{"s":"B","c":"C23","g":"Normal","f":30,"m":0.35,"lo":-0.2,"hi":0.8},
{"s":"B","c":"C23","g":"Normal","f":33,"m":0.3,"lo":-0.25,"hi":0.7},
{"s":"B","c":"C23","g":"Normal","f":36,"m":0.25,"lo":-0.25,"hi":0.75},
{"s":"B","c":"C23","g":"Normal","f":40,"m":0.25,"lo":-0.3,"hi":0.85},
{"s":"B","c":"C23","g":"Normal","f":44,"m":0.25,"lo":-0.35,"hi":0.9},
{"s":"B","c":"C23","g":"Normal","f":47,"m":0.25,"lo":-0.4,"hi":0.9},
{"s":"B","c":"C23","g":"Normal","f":50,"m":0.2,"lo":-0.45,"hi":0.85},
{"s":"B","c":"C23","g":"Vulnerable","f":5,"m":2.0,"lo":1.2,"hi":2.8},
{"s":"B","c":"C23","g":"Vulnerable","f":5.5,"m":2.0,"lo":1.2,"hi":2.7},
{"s":"B","c":"C23","g":"Vulnerable","f":6,"m":1.5,"lo":0.8,"hi":2.2},
{"s":"B","c":"C23","g":"Vulnerable","f":7,"m":0.9,"lo":0.3,"hi":1.4},
{"s":"B","c":"C23","g":"Vulnerable","f":8,"m":0.6,"lo":-0.1,"hi":1.1},
{"s":"B","c":"C23","g":"Vulnerable","f":9,"m":0,"lo":-0.7,"hi":0.5},
{"s":"B","c":"C23","g":"Vulnerable","f":10,"m":-0.5,"lo":-1.0,"hi":0},
{"s":"B","c":"C23","g":"Vulnerable","f":10.5,"m":-0.5,"lo":-1.05,"hi":0.05},
{"s":"B","c":"C23","g":"Vulnerable","f":11,"m":-0.3,"lo":-0.8,"hi":0.3},
{"s":"B","c":"C23","g":"Vulnerable","f":12,"m":-0.05,"lo":-0.5,"hi":0.5},
{"s":"B","c":"C23","g":"Vulnerable","f":13,"m":0.2,"lo":-0.2,"hi":0.7},
{"s":"B","c":"C23","g":"Vulnerable","f":14,"m":0.5,"lo":0,"hi":1.0},
{"s":"B","c":"C23","g":"Vulnerable","f":15,"m":0.7,"lo":0.2,"hi":1.2},
{"s":"B","c":"C23","g":"Vulnerable","f":16,"m":0.75,"lo":0.3,"hi":1.25},
{"s":"B","c":"C23","g":"Vulnerable","f":17,"m":0.6,"lo":0.15,"hi":1.05},
{"s":"B","c":"C23","g":"Vulnerable","f":18,"m":0.2,"lo":-0.3,"hi":0.65},
{"s":"B","c":"C23","g":"Vulnerable","f":19,"m":-0.1,"lo":-0.55,"hi":0.3},
{"s":"B","c":"C23","g":"Vulnerable","f":20,"m":-0.3,"lo":-0.7,"hi":0.1},
{"s":"B","c":"C23","g":"Vulnerable","f":22,"m":-0.35,"lo":-0.75,"hi":0},
{"s":"B","c":"C23","g":"Vulnerable","f":24,"m":-0.2,"lo":-0.55,"hi":0.1},
{"s":"B","c":"C23","g":"Vulnerable","f":26,"m":-0.15,"lo":-0.45,"hi":0.15},
{"s":"B","c":"C23","g":"Vulnerable","f":28,"m":-0.15,"lo":-0.4,"hi":0.15},
{"s":"B","c":"C23","g":"Vulnerable","f":30,"m":-0.1,"lo":-0.35,"hi":0.15},
{"s":"B","c":"C23","g":"Vulnerable","f":32,"m":-0.05,"lo":-0.3,"hi":0.2},
{"s":"B","c":"C23","g":"Vulnerable","f":35,"m":0,"lo":-0.2,"hi":0.2},
{"s":"B","c":"C23","g":"Vulnerable","f":40,"m":0,"lo":-0.15,"hi":0.2},
{"s":"B","c":"C23","g":"Vulnerable","f":45,"m":0.05,"lo":-0.15,"hi":0.25},
{"s":"B","c":"C23","g":"Vulnerable","f":50,"m":0.05,"lo":-0.15,"hi":0.25}
],
"pv":[
{"s":"A","c":"C01","f":5,"p":0.2},{"s":"A","c":"C01","f":6.2,"p":0.19},{"s":"A","c":"C01","f":6.9,"p":0.012},{"s":"A","c":"C01","f":8,"p":0.032},{"s":"A","c":"C01","f":9,"p":0.077},{"s":"A","c":"C01","f":10,"p":0.19},{"s":"A","c":"C01","f":11,"p":0.42},{"s":"A","c":"C01","f":12,"p":0.38},{"s":"A","c":"C01","f":13,"p":0.33},{"s":"A","c":"C01","f":14,"p":0.36},{"s":"A","c":"C01","f":15,"p":0.4},{"s":"A","c":"C01","f":16,"p":0.4},{"s":"A","c":"C01","f":17,"p":0.42},{"s":"A","c":"C01","f":18,"p":0.55},{"s":"A","c":"C01","f":19,"p":0.75},{"s":"A","c":"C01","f":20.1,"p":1.0},{"s":"A","c":"C01","f":21,"p":0.7},{"s":"A","c":"C01","f":22,"p":0.42},{"s":"A","c":"C01","f":23,"p":0.25},{"s":"A","c":"C01","f":24,"p":0.17},{"s":"A","c":"C01","f":25,"p":0.13},{"s":"A","c":"C01","f":26,"p":0.1},{"s":"A","c":"C01","f":27,"p":0.08},{"s":"A","c":"C01","f":28,"p":0.065},{"s":"A","c":"C01","f":29,"p":0.055},{"s":"A","c":"C01","f":30,"p":0.052},{"s":"A","c":"C01","f":31,"p":0.055},{"s":"A","c":"C01","f":32,"p":0.065},{"s":"A","c":"C01","f":34,"p":0.09},{"s":"A","c":"C01","f":36,"p":0.14},{"s":"A","c":"C01","f":38,"p":0.22},{"s":"A","c":"C01","f":40,"p":0.3},{"s":"A","c":"C01","f":42,"p":0.42},{"s":"A","c":"C01","f":44,"p":0.58},{"s":"A","c":"C01","f":46,"p":0.75},{"s":"A","c":"C01","f":48,"p":0.95},{"s":"A","c":"C01","f":49,"p":1.0},{"s":"A","c":"C01","f":50,"p":0.95},
{"s":"A","c":"C12","f":5,"p":0.9},{"s":"A","c":"C12","f":6.2,"p":0.17},{"s":"A","c":"C12","f":7,"p":0.2},{"s":"A","c":"C12","f":8.8,"p":0.95},{"s":"A","c":"C12","f":9.6,"p":0.25},{"s":"A","c":"C12","f":10.9,"p":0.18},{"s":"A","c":"C12","f":14,"p":1.0},{"s":"A","c":"C12","f":18.8,"p":0.034},{"s":"A","c":"C12","f":20.7,"p":0.12},{"s":"A","c":"C12","f":23.5,"p":0.36},{"s":"A","c":"C12","f":25.9,"p":0.84},{"s":"A","c":"C12","f":27.8,"p":1.0},{"s":"A","c":"C12","f":31.3,"p":0.34},{"s":"A","c":"C12","f":36,"p":0.095},{"s":"A","c":"C12","f":39.1,"p":0.039},{"s":"A","c":"C12","f":41.5,"p":0.019},{"s":"A","c":"C12","f":43.8,"p":0.019},{"s":"A","c":"C12","f":47,"p":0.028},{"s":"A","c":"C12","f":50,"p":0.044},
{"s":"A","c":"C23","f":5,"p":0.11},{"s":"A","c":"C23","f":5.8,"p":0.5},{"s":"A","c":"C23","f":6.6,"p":0.5},{"s":"A","c":"C23","f":8.7,"p":0.16},{"s":"A","c":"C23","f":10.6,"p":1.0},{"s":"A","c":"C23","f":13,"p":0.57},{"s":"A","c":"C23","f":13.7,"p":0.57},{"s":"A","c":"C23","f":14.75,"p":0.95},{"s":"A","c":"C23","f":16.85,"p":0.39},{"s":"A","c":"C23","f":18.4,"p":0.32},{"s":"A","c":"C23","f":20,"p":0.32},{"s":"A","c":"C23","f":25,"p":1.0},{"s":"A","c":"C23","f":29.3,"p":0.23},{"s":"A","c":"C23","f":34.8,"p":0.05},{"s":"A","c":"C23","f":37.1,"p":0.084},{"s":"A","c":"C23","f":39.5,"p":0.14},{"s":"A","c":"C23","f":43,"p":0.14},{"s":"A","c":"C23","f":46.1,"p":0.1},{"s":"A","c":"C23","f":50,"p":0.11},
{"s":"B","c":"C01","f":6.4,"p":0.003},{"s":"B","c":"C01","f":6.6,"p":0.01},{"s":"B","c":"C01","f":7.96,"p":0.155},{"s":"B","c":"C01","f":10.06,"p":0.7},{"s":"B","c":"C01","f":10.84,"p":0.7},{"s":"B","c":"C01","f":12.8,"p":0.65},{"s":"B","c":"C01","f":15.1,"p":0.27},{"s":"B","c":"C01","f":17.1,"p":0.18},{"s":"B","c":"C01","f":19.4,"p":0.27},{"s":"B","c":"C01","f":22.1,"p":0.89},{"s":"B","c":"C01","f":24.5,"p":0.27},{"s":"B","c":"C01","f":26.8,"p":0.082},{"s":"B","c":"C01","f":28,"p":0.055},{"s":"B","c":"C01","f":29.9,"p":0.13},{"s":"B","c":"C01","f":32.3,"p":0.34},{"s":"B","c":"C01","f":35.4,"p":0.65},{"s":"B","c":"C01","f":38.1,"p":0.7},{"s":"B","c":"C01","f":40.8,"p":0.55},{"s":"B","c":"C01","f":43.9,"p":0.3},{"s":"B","c":"C01","f":46.3,"p":0.24},{"s":"B","c":"C01","f":50,"p":0.27},
{"s":"B","c":"C12","f":6.3,"p":0.003},{"s":"B","c":"C12","f":6.4,"p":0.01},{"s":"B","c":"C12","f":7.35,"p":0.43},{"s":"B","c":"C12","f":8.5,"p":0.83},{"s":"B","c":"C12","f":10.1,"p":0.83},{"s":"B","c":"C12","f":11.3,"p":0.89},{"s":"B","c":"C12","f":12.6,"p":0.79},{"s":"B","c":"C12","f":14.4,"p":0.15},{"s":"B","c":"C12","f":16,"p":0.035},{"s":"B","c":"C12","f":17,"p":0.04},{"s":"B","c":"C12","f":18.7,"p":0.24},{"s":"B","c":"C12","f":20.6,"p":0.89},{"s":"B","c":"C12","f":22.2,"p":0.24},{"s":"B","c":"C12","f":23.4,"p":0.092},{"s":"B","c":"C12","f":24.6,"p":0.12},{"s":"B","c":"C12","f":26.5,"p":0.38},{"s":"B","c":"C12","f":29.6,"p":1.0},{"s":"B","c":"C12","f":31.2,"p":0.84},{"s":"B","c":"C12","f":33.6,"p":0.4},{"s":"B","c":"C12","f":37.1,"p":0.33},{"s":"B","c":"C12","f":39,"p":0.34},{"s":"B","c":"C12","f":41.4,"p":0.47},{"s":"B","c":"C12","f":46.1,"p":0.47},{"s":"B","c":"C12","f":47.3,"p":0.43},{"s":"B","c":"C12","f":48,"p":0.34},{"s":"B","c":"C12","f":50,"p":0.34},
{"s":"B","c":"C23","f":6.0,"p":0.003},{"s":"B","c":"C23","f":6.1,"p":0.01},{"s":"B","c":"C23","f":6.7,"p":0.035},{"s":"B","c":"C23","f":7.5,"p":0.15},{"s":"B","c":"C23","f":8.4,"p":0.3},{"s":"B","c":"C23","f":9.45,"p":1.0},{"s":"B","c":"C23","f":10.6,"p":0.7},{"s":"B","c":"C23","f":12.2,"p":0.79},{"s":"B","c":"C23","f":13.7,"p":1.0},{"s":"B","c":"C23","f":15.3,"p":0.7},{"s":"B","c":"C23","f":16.5,"p":0.55},{"s":"B","c":"C23","f":17.6,"p":0.7},{"s":"B","c":"C23","f":18.8,"p":1.0},{"s":"B","c":"C23","f":20.4,"p":0.43},{"s":"B","c":"C23","f":21.9,"p":0.29},{"s":"B","c":"C23","f":23.1,"p":0.3},{"s":"B","c":"C23","f":25.4,"p":0.4},{"s":"B","c":"C23","f":27.8,"p":0.59},{"s":"B","c":"C23","f":30.1,"p":0.62},{"s":"B","c":"C23","f":32.5,"p":0.55},{"s":"B","c":"C23","f":34.4,"p":0.59},{"s":"B","c":"C23","f":36.4,"p":0.7},{"s":"B","c":"C23","f":38.3,"p":0.89},{"s":"B","c":"C23","f":40.3,"p":0.89},{"s":"B","c":"C23","f":43.4,"p":0.79},{"s":"B","c":"C23","f":46.5,"p":0.79},{"s":"B","c":"C23","f":50,"p":0.79}
]
},
"resolve":{"scale":{"color":"independent"},"legend":{"color":"independent"}},
"spacing":41,
"vconcat":[
{"title":{"text":"A","fontSize":34,"anchor":"start","frame":"bounds","offset":-6,"dx":7},
 "spacing":16,"resolve":{"scale":{"color":"independent"},"legend":{"color":"independent"}},
 "hconcat":[
 {"columns":1,"align":"none","spacing":46,"resolve":{"scale":{"color":"independent"},"legend":{"color":"independent"}},"concat":[
  {"width":198,"height":62,"title":"C01 (N = 26)","layer":[
   {"data":{"values":[{}]},"mark":{"type":"rule","strokeDash":[8,5],"strokeWidth":1.5,"color":"#111"},"encoding":{"y":{"datum":0.05,"type":"quantitative"}}},
   {"data":{"name":"pv"},"transform":[{"filter":"datum.s=='A' && datum.c=='C01'"}],"mark":{"type":"line","color":"#b22222","strokeWidth":3,"clip":true},"encoding":{"x":{"field":"f","type":"quantitative","scale":{"domain":[5,50],"range":[5,198],"nice":false,"zero":false},"axis":{"values":[10,15,20,25,30,35,40,45,50],"labels":false,"title":null}},"y":{"field":"p","type":"quantitative","scale":{"type":"log","domain":[0.01,1],"nice":false},"axis":{"offset":-5,"values":[0.01,0.02,0.03,0.04,0.05,0.06,0.07,0.08,0.09,0.1,0.2,0.3,0.4,0.5,0.6,0.7,0.8,0.9,1],"labelExpr":"datum.value == 1 ? '10⁰' : datum.value == 0.1 ? '10⁻¹' : datum.value == 0.01 ? '10⁻²' : ''","tickSize":{"condition":{"test":"datum.value == 1 || datum.value == 0.1 || datum.value == 0.01","value":-5},"value":-2.5},"title":"p value","titleFontSize":14,"minExtent":31,"maxExtent":31,"titlePadding":1}}}}
  ]},
  {"width":198,"height":211,"data":{"name":"pw"},"transform":[{"filter":"datum.s=='A' && datum.c=='C01'"}],
   "encoding":{"x":{"field":"f","type":"quantitative","scale":{"domain":[5,50],"nice":false,"zero":false},"axis":{"values":[5,10,15,20,25,30,35,40,45,50],"labelExpr":"(datum.value % 10 == 5 && datum.value != 5) ? '' : datum.label","title":"Frequency (Hz)"}}},
   "layer":[
    {"transform":[{"filter":"datum.g=='Normal'"}],"mark":{"type":"area","fill":"#9a9580","fillOpacity":0.38,"stroke":"#8a8672","strokeWidth":0.7,"strokeOpacity":0.5,"clip":true},"encoding":{"y":{"field":"lo","type":"quantitative","scale":{"domain":[-6,4],"nice":false,"zero":false},"axis":{"values":[-6,-4,-2,0,2,4],"title":"Relative power (% change)","minExtent":20,"maxExtent":20,"titlePadding":4}},"y2":{"field":"hi"}}},
    {"transform":[{"filter":"datum.g=='Normal'"}],"mark":{"type":"line","strokeWidth":3,"clip":true},"encoding":{"y":{"field":"m","type":"quantitative"},"color":{"field":"g","type":"nominal","scale":{"domain":["Normal","Vulnerable"],"range":["#111111","#b22222"]},"legend":{"legendX":59,"legendY":167}}}},
    {"transform":[{"filter":"datum.g=='Vulnerable'"}],"mark":{"type":"area","fill":"#c0392b","fillOpacity":0.33,"stroke":"#b22222","strokeWidth":0.7,"strokeOpacity":0.4,"clip":true},"encoding":{"y":{"field":"lo","type":"quantitative"},"y2":{"field":"hi"}}},
    {"transform":[{"filter":"datum.g=='Vulnerable'"}],"mark":{"type":"line","strokeWidth":3,"clip":true},"encoding":{"y":{"field":"m","type":"quantitative"},"color":{"field":"g","type":"nominal"}}}
   ]}
 ]},
 {"columns":1,"align":"none","spacing":46,"resolve":{"scale":{"color":"independent"},"legend":{"color":"independent"}},"concat":[
  {"width":198,"height":62,"title":"C12 (N = 26)","layer":[
   {"data":{"values":[{}]},"mark":{"type":"rule","strokeDash":[8,5],"strokeWidth":1.5,"color":"#111"},"encoding":{"y":{"datum":0.05,"type":"quantitative"}}},
   {"data":{"name":"pv"},"transform":[{"filter":"datum.s=='A' && datum.c=='C12'"}],"mark":{"type":"line","color":"#b22222","strokeWidth":3,"clip":true},"encoding":{"x":{"field":"f","type":"quantitative","scale":{"domain":[5,50],"range":[5,198],"nice":false,"zero":false},"axis":{"values":[10,15,20,25,30,35,40,45,50],"labels":false,"title":null}},"y":{"field":"p","type":"quantitative","scale":{"type":"log","domain":[0.01,1],"nice":false},"axis":{"offset":-5,"values":[0.01,0.02,0.03,0.04,0.05,0.06,0.07,0.08,0.09,0.1,0.2,0.3,0.4,0.5,0.6,0.7,0.8,0.9,1],"labelExpr":"datum.value == 1 ? '10⁰' : datum.value == 0.1 ? '10⁻¹' : datum.value == 0.01 ? '10⁻²' : ''","tickSize":{"condition":{"test":"datum.value == 1 || datum.value == 0.1 || datum.value == 0.01","value":-5},"value":-2.5},"title":"p value","titleFontSize":14,"minExtent":31,"maxExtent":31,"titlePadding":1}}}}
  ]},
  {"width":198,"height":211,"data":{"name":"pw"},"transform":[{"filter":"datum.s=='A' && datum.c=='C12'"}],
   "encoding":{"x":{"field":"f","type":"quantitative","scale":{"domain":[5,50],"nice":false,"zero":false},"axis":{"values":[5,10,15,20,25,30,35,40,45,50],"labelExpr":"(datum.value % 10 == 5 && datum.value != 5) ? '' : datum.label","title":"Frequency (Hz)"}}},
   "layer":[
    {"transform":[{"filter":"datum.g=='Normal'"}],"mark":{"type":"area","fill":"#9a9580","fillOpacity":0.38,"stroke":"#8a8672","strokeWidth":0.7,"strokeOpacity":0.5,"clip":true},"encoding":{"y":{"field":"lo","type":"quantitative","scale":{"domain":[-6,4],"nice":false,"zero":false},"axis":{"values":[-6,-4,-2,0,2,4],"title":"Relative power (% change)","minExtent":20,"maxExtent":20,"titlePadding":4}},"y2":{"field":"hi"}}},
    {"transform":[{"filter":"datum.g=='Normal'"}],"mark":{"type":"line","strokeWidth":3,"clip":true},"encoding":{"y":{"field":"m","type":"quantitative"},"color":{"field":"g","type":"nominal","scale":{"domain":["Normal","Vulnerable"],"range":["#111111","#b22222"]},"legend":{"legendX":57,"legendY":167}}}},
    {"transform":[{"filter":"datum.g=='Vulnerable'"}],"mark":{"type":"area","fill":"#c0392b","fillOpacity":0.33,"stroke":"#b22222","strokeWidth":0.7,"strokeOpacity":0.4,"clip":true},"encoding":{"y":{"field":"lo","type":"quantitative"},"y2":{"field":"hi"}}},
    {"transform":[{"filter":"datum.g=='Vulnerable'"}],"mark":{"type":"line","strokeWidth":3,"clip":true},"encoding":{"y":{"field":"m","type":"quantitative"},"color":{"field":"g","type":"nominal"}}}
   ]}
 ]},
 {"columns":1,"align":"none","spacing":46,"resolve":{"scale":{"color":"independent"},"legend":{"color":"independent"}},"concat":[
  {"width":198,"height":62,"title":"C23 (N = 26)","layer":[
   {"data":{"values":[{}]},"mark":{"type":"rule","strokeDash":[8,5],"strokeWidth":1.5,"color":"#111"},"encoding":{"y":{"datum":0.05,"type":"quantitative"}}},
   {"data":{"name":"pv"},"transform":[{"filter":"datum.s=='A' && datum.c=='C23'"}],"mark":{"type":"line","color":"#b22222","strokeWidth":3,"clip":true},"encoding":{"x":{"field":"f","type":"quantitative","scale":{"domain":[5,50],"range":[5,198],"nice":false,"zero":false},"axis":{"values":[10,15,20,25,30,35,40,45,50],"labels":false,"title":null}},"y":{"field":"p","type":"quantitative","scale":{"type":"log","domain":[0.01,1],"nice":false},"axis":{"offset":-5,"values":[0.01,0.02,0.03,0.04,0.05,0.06,0.07,0.08,0.09,0.1,0.2,0.3,0.4,0.5,0.6,0.7,0.8,0.9,1],"labelExpr":"datum.value == 1 ? '10⁰' : datum.value == 0.1 ? '10⁻¹' : datum.value == 0.01 ? '10⁻²' : ''","tickSize":{"condition":{"test":"datum.value == 1 || datum.value == 0.1 || datum.value == 0.01","value":-5},"value":-2.5},"title":"p value","titleFontSize":14,"minExtent":31,"maxExtent":31,"titlePadding":1}}}}
  ]},
  {"width":198,"height":211,"data":{"name":"pw"},"transform":[{"filter":"datum.s=='A' && datum.c=='C23'"}],
   "encoding":{"x":{"field":"f","type":"quantitative","scale":{"domain":[5,50],"nice":false,"zero":false},"axis":{"values":[5,10,15,20,25,30,35,40,45,50],"labelExpr":"(datum.value % 10 == 5 && datum.value != 5) ? '' : datum.label","title":"Frequency (Hz)"}}},
   "layer":[
    {"transform":[{"filter":"datum.g=='Normal'"}],"mark":{"type":"area","fill":"#9a9580","fillOpacity":0.38,"stroke":"#8a8672","strokeWidth":0.7,"strokeOpacity":0.5,"clip":true},"encoding":{"y":{"field":"lo","type":"quantitative","scale":{"domain":[-6,4],"nice":false,"zero":false},"axis":{"values":[-6,-4,-2,0,2,4],"title":"Relative power (% change)","minExtent":20,"maxExtent":20,"titlePadding":4}},"y2":{"field":"hi"}}},
    {"transform":[{"filter":"datum.g=='Normal'"}],"mark":{"type":"line","strokeWidth":3,"clip":true},"encoding":{"y":{"field":"m","type":"quantitative"},"color":{"field":"g","type":"nominal","scale":{"domain":["Normal","Vulnerable"],"range":["#111111","#b22222"]},"legend":{"legendX":59,"legendY":167}}}},
    {"transform":[{"filter":"datum.g=='Vulnerable'"}],"mark":{"type":"area","fill":"#c0392b","fillOpacity":0.33,"stroke":"#b22222","strokeWidth":0.7,"strokeOpacity":0.4,"clip":true},"encoding":{"y":{"field":"lo","type":"quantitative"},"y2":{"field":"hi"}}},
    {"transform":[{"filter":"datum.g=='Vulnerable'"}],"mark":{"type":"line","strokeWidth":3,"clip":true},"encoding":{"y":{"field":"m","type":"quantitative"},"color":{"field":"g","type":"nominal"}}}
   ]}
 ]}
 ]
},
{"title":{"text":"B","fontSize":34,"anchor":"start","frame":"bounds","offset":-6,"dx":7},
 "spacing":16,"resolve":{"scale":{"color":"independent"},"legend":{"color":"independent"}},
 "hconcat":[
 {"columns":1,"align":"none","spacing":46,"resolve":{"scale":{"color":"independent"},"legend":{"color":"independent"}},"concat":[
  {"width":198,"height":65,"title":"C01 (N = 26)","layer":[
   {"data":{"values":[{}]},"mark":{"type":"rule","strokeDash":[8,5],"strokeWidth":1.5,"color":"#111"},"encoding":{"y":{"datum":0.05,"type":"quantitative"}}},
   {"data":{"name":"pv"},"transform":[{"filter":"datum.s=='B' && datum.c=='C01'"}],"mark":{"type":"line","color":"#b22222","strokeWidth":3,"clip":true},"encoding":{"x":{"field":"f","type":"quantitative","scale":{"domain":[5,50],"range":[5,198],"nice":false,"zero":false},"axis":{"values":[10,15,20,25,30,35,40,45,50],"labels":false,"title":null}},"y":{"field":"p","type":"quantitative","scale":{"type":"log","domain":[0.01,1],"nice":false},"axis":{"offset":-5,"values":[0.01,0.02,0.03,0.04,0.05,0.06,0.07,0.08,0.09,0.1,0.2,0.3,0.4,0.5,0.6,0.7,0.8,0.9,1],"labelExpr":"datum.value == 1 ? '10⁰' : datum.value == 0.1 ? '10⁻¹' : datum.value == 0.01 ? '10⁻²' : ''","tickSize":{"condition":{"test":"datum.value == 1 || datum.value == 0.1 || datum.value == 0.01","value":-5},"value":-2.5},"title":"p value","titleFontSize":14,"minExtent":31,"maxExtent":31,"titlePadding":1}}}}
  ]},
  {"width":198,"height":210,"data":{"name":"pw"},"transform":[{"filter":"datum.s=='B' && datum.c=='C01'"}],
   "encoding":{"x":{"field":"f","type":"quantitative","scale":{"domain":[5,50],"nice":false,"zero":false},"axis":{"values":[5,10,15,20,25,30,35,40,45,50],"labelExpr":"(datum.value % 10 == 5 && datum.value != 5) ? '' : datum.label","title":"Frequency (Hz)"}}},
   "layer":[
    {"transform":[{"filter":"datum.g=='Normal'"}],"mark":{"type":"area","fill":"#9a9580","fillOpacity":0.38,"stroke":"#8a8672","strokeWidth":0.7,"strokeOpacity":0.5,"clip":true},"encoding":{"y":{"field":"lo","type":"quantitative","scale":{"domain":[-6,4],"nice":false,"zero":false},"axis":{"values":[-6,-4,-2,0,2,4],"title":"Relative power (% change)","minExtent":20,"maxExtent":20,"titlePadding":4}},"y2":{"field":"hi"}}},
    {"transform":[{"filter":"datum.g=='Normal'"}],"mark":{"type":"line","strokeWidth":3,"clip":true},"encoding":{"y":{"field":"m","type":"quantitative"},"color":{"field":"g","type":"nominal","scale":{"domain":["Normal","Vulnerable"],"range":["#111111","#b22222"]},"legend":{"legendX":69,"legendY":166}}}},
    {"transform":[{"filter":"datum.g=='Vulnerable'"}],"mark":{"type":"area","fill":"#c0392b","fillOpacity":0.33,"stroke":"#b22222","strokeWidth":0.7,"strokeOpacity":0.4,"clip":true},"encoding":{"y":{"field":"lo","type":"quantitative"},"y2":{"field":"hi"}}},
    {"transform":[{"filter":"datum.g=='Vulnerable'"}],"mark":{"type":"line","strokeWidth":3,"clip":true},"encoding":{"y":{"field":"m","type":"quantitative"},"color":{"field":"g","type":"nominal"}}}
   ]}
 ]},
 {"columns":1,"align":"none","spacing":46,"resolve":{"scale":{"color":"independent"},"legend":{"color":"independent"}},"concat":[
  {"width":198,"height":65,"title":"C12 (N = 26)","layer":[
   {"data":{"values":[{}]},"mark":{"type":"rule","strokeDash":[8,5],"strokeWidth":1.5,"color":"#111"},"encoding":{"y":{"datum":0.05,"type":"quantitative"}}},
   {"data":{"name":"pv"},"transform":[{"filter":"datum.s=='B' && datum.c=='C12'"}],"mark":{"type":"line","color":"#b22222","strokeWidth":3,"clip":true},"encoding":{"x":{"field":"f","type":"quantitative","scale":{"domain":[5,50],"range":[5,198],"nice":false,"zero":false},"axis":{"values":[10,15,20,25,30,35,40,45,50],"labels":false,"title":null}},"y":{"field":"p","type":"quantitative","scale":{"type":"log","domain":[0.01,1],"nice":false},"axis":{"offset":-5,"values":[0.01,0.02,0.03,0.04,0.05,0.06,0.07,0.08,0.09,0.1,0.2,0.3,0.4,0.5,0.6,0.7,0.8,0.9,1],"labelExpr":"datum.value == 1 ? '10⁰' : datum.value == 0.1 ? '10⁻¹' : datum.value == 0.01 ? '10⁻²' : ''","tickSize":{"condition":{"test":"datum.value == 1 || datum.value == 0.1 || datum.value == 0.01","value":-5},"value":-2.5},"title":"p value","titleFontSize":14,"minExtent":31,"maxExtent":31,"titlePadding":1}}}}
  ]},
  {"width":198,"height":210,"data":{"name":"pw"},"transform":[{"filter":"datum.s=='B' && datum.c=='C12'"}],
   "encoding":{"x":{"field":"f","type":"quantitative","scale":{"domain":[5,50],"nice":false,"zero":false},"axis":{"values":[5,10,15,20,25,30,35,40,45,50],"labelExpr":"(datum.value % 10 == 5 && datum.value != 5) ? '' : datum.label","title":"Frequency (Hz)"}}},
   "layer":[
    {"transform":[{"filter":"datum.g=='Normal'"}],"mark":{"type":"area","fill":"#9a9580","fillOpacity":0.38,"stroke":"#8a8672","strokeWidth":0.7,"strokeOpacity":0.5,"clip":true},"encoding":{"y":{"field":"lo","type":"quantitative","scale":{"domain":[-6,4],"nice":false,"zero":false},"axis":{"values":[-6,-4,-2,0,2,4],"title":"Relative power (% change)","minExtent":20,"maxExtent":20,"titlePadding":4}},"y2":{"field":"hi"}}},
    {"transform":[{"filter":"datum.g=='Normal'"}],"mark":{"type":"line","strokeWidth":3,"clip":true},"encoding":{"y":{"field":"m","type":"quantitative"},"color":{"field":"g","type":"nominal","scale":{"domain":["Normal","Vulnerable"],"range":["#111111","#b22222"]},"legend":{"legendX":67,"legendY":166}}}},
    {"transform":[{"filter":"datum.g=='Vulnerable'"}],"mark":{"type":"area","fill":"#c0392b","fillOpacity":0.33,"stroke":"#b22222","strokeWidth":0.7,"strokeOpacity":0.4,"clip":true},"encoding":{"y":{"field":"lo","type":"quantitative"},"y2":{"field":"hi"}}},
    {"transform":[{"filter":"datum.g=='Vulnerable'"}],"mark":{"type":"line","strokeWidth":3,"clip":true},"encoding":{"y":{"field":"m","type":"quantitative"},"color":{"field":"g","type":"nominal"}}}
   ]}
 ]},
 {"columns":1,"align":"none","spacing":46,"resolve":{"scale":{"color":"independent"},"legend":{"color":"independent"}},"concat":[
  {"width":198,"height":65,"title":"C23 (N = 26)","layer":[
   {"data":{"values":[{}]},"mark":{"type":"rule","strokeDash":[8,5],"strokeWidth":1.5,"color":"#111"},"encoding":{"y":{"datum":0.05,"type":"quantitative"}}},
   {"data":{"name":"pv"},"transform":[{"filter":"datum.s=='B' && datum.c=='C23'"}],"mark":{"type":"line","color":"#b22222","strokeWidth":3,"clip":true},"encoding":{"x":{"field":"f","type":"quantitative","scale":{"domain":[5,50],"range":[5,198],"nice":false,"zero":false},"axis":{"values":[10,15,20,25,30,35,40,45,50],"labels":false,"title":null}},"y":{"field":"p","type":"quantitative","scale":{"type":"log","domain":[0.01,1],"nice":false},"axis":{"offset":-5,"values":[0.01,0.02,0.03,0.04,0.05,0.06,0.07,0.08,0.09,0.1,0.2,0.3,0.4,0.5,0.6,0.7,0.8,0.9,1],"labelExpr":"datum.value == 1 ? '10⁰' : datum.value == 0.1 ? '10⁻¹' : datum.value == 0.01 ? '10⁻²' : ''","tickSize":{"condition":{"test":"datum.value == 1 || datum.value == 0.1 || datum.value == 0.01","value":-5},"value":-2.5},"title":"p value","titleFontSize":14,"minExtent":31,"maxExtent":31,"titlePadding":1}}}}
  ]},
  {"width":198,"height":210,"data":{"name":"pw"},"transform":[{"filter":"datum.s=='B' && datum.c=='C23'"}],
   "encoding":{"x":{"field":"f","type":"quantitative","scale":{"domain":[5,50],"nice":false,"zero":false},"axis":{"values":[5,10,15,20,25,30,35,40,45,50],"labelExpr":"(datum.value % 10 == 5 && datum.value != 5) ? '' : datum.label","title":"Frequency (Hz)"}}},
   "layer":[
    {"transform":[{"filter":"datum.g=='Normal'"}],"mark":{"type":"area","fill":"#9a9580","fillOpacity":0.38,"stroke":"#8a8672","strokeWidth":0.7,"strokeOpacity":0.5,"clip":true},"encoding":{"y":{"field":"lo","type":"quantitative","scale":{"domain":[-6,4],"nice":false,"zero":false},"axis":{"values":[-6,-4,-2,0,2,4],"title":"Relative power (% change)","minExtent":20,"maxExtent":20,"titlePadding":4}},"y2":{"field":"hi"}}},
    {"transform":[{"filter":"datum.g=='Normal'"}],"mark":{"type":"line","strokeWidth":3,"clip":true},"encoding":{"y":{"field":"m","type":"quantitative"},"color":{"field":"g","type":"nominal","scale":{"domain":["Normal","Vulnerable"],"range":["#111111","#b22222"]},"legend":{"legendX":67,"legendY":166}}}},
    {"transform":[{"filter":"datum.g=='Vulnerable'"}],"mark":{"type":"area","fill":"#c0392b","fillOpacity":0.33,"stroke":"#b22222","strokeWidth":0.7,"strokeOpacity":0.4,"clip":true},"encoding":{"y":{"field":"lo","type":"quantitative"},"y2":{"field":"hi"}}},
    {"transform":[{"filter":"datum.g=='Vulnerable'"}],"mark":{"type":"line","strokeWidth":3,"clip":true},"encoding":{"y":{"field":"m","type":"quantitative"},"color":{"field":"g","type":"nominal"}}}
   ]}
 ]}
 ]
}
]
}
